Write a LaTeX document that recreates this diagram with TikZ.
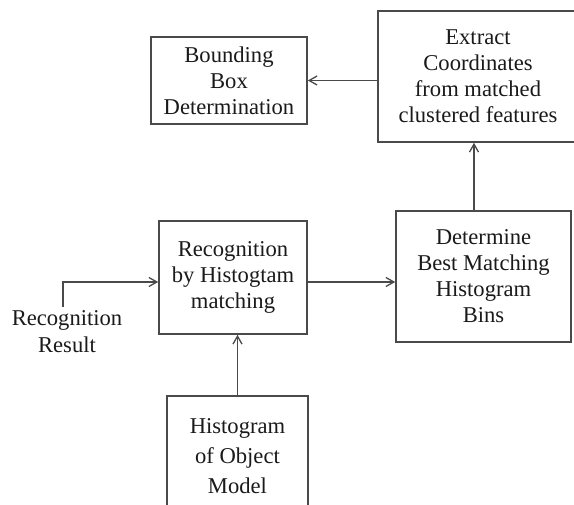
\documentclass[tikz,border=0pt]{standalone}
\usepackage{fontspec}
\setmainfont{Liberation Serif}
\usetikzlibrary{arrows.meta}
\definecolor{linec}{HTML}{4A4A4A}
\definecolor{txtc}{HTML}{1A1A1A}
\begin{document}
\begin{tikzpicture}[x=1pt,y=-1pt,
  box/.style={draw=linec,line width=1.6pt,rectangle,align=center,inner sep=0pt,
    text=txtc,font=\fontsize{22.6}{26}\selectfont},
  lbl/.style={align=center,inner sep=0pt,text=txtc,font=\fontsize{22.6}{27}\selectfont},
  arr/.style={draw=linec,line width=1.6pt,-{Straight Barb[length=8pt,width=9pt,line width=1.3pt]}}]
\useasboundingbox[fill=white] (0,0) rectangle (574,505);
\node[box,minimum width=156pt,minimum height=87pt] (bb) at (229,80.5)
  {Bounding\\Box\\Determination};
\node[box,minimum width=200pt,minimum height=131pt] (ext) at (478,76.5)
  {Extract\\Coordinates\\from matched\\clustered features};
\node[box,minimum width=148pt,minimum height=113pt] (rec) at (233,277.5)
  {Recognition\\by Histogtam\\matching};
\node[box,minimum width=175pt,minimum height=131pt] (det) at (483.5,276.5)
  {Determine\\Best Matching\\Histogram\\Bins};
\node[box,minimum width=141pt,minimum height=120pt,font=\fontsize{22.6}{30}\selectfont] (hist) at (237.5,456)
  {Histogram\\of Object\\Model};
\node[lbl] (res) at (67,332) {Recognition\\Result};
\draw[arr] (ext.west |- bb.east) -- (bb.east);
\draw[arr] ([xshift=-9.5pt]det.north) -- ([xshift=-9.5pt]det.north |- ext.south);
\draw[arr] ([yshift=-4.5pt]rec.east) -- ([yshift=-5.5pt]det.west);
\draw[arr] (hist.north) -- (hist.north |- rec.south);
\draw[arr] ([xshift=-4pt,yshift=4pt]res.north) |- ([yshift=-4.5pt]rec.west);
\end{tikzpicture}
\end{document}
